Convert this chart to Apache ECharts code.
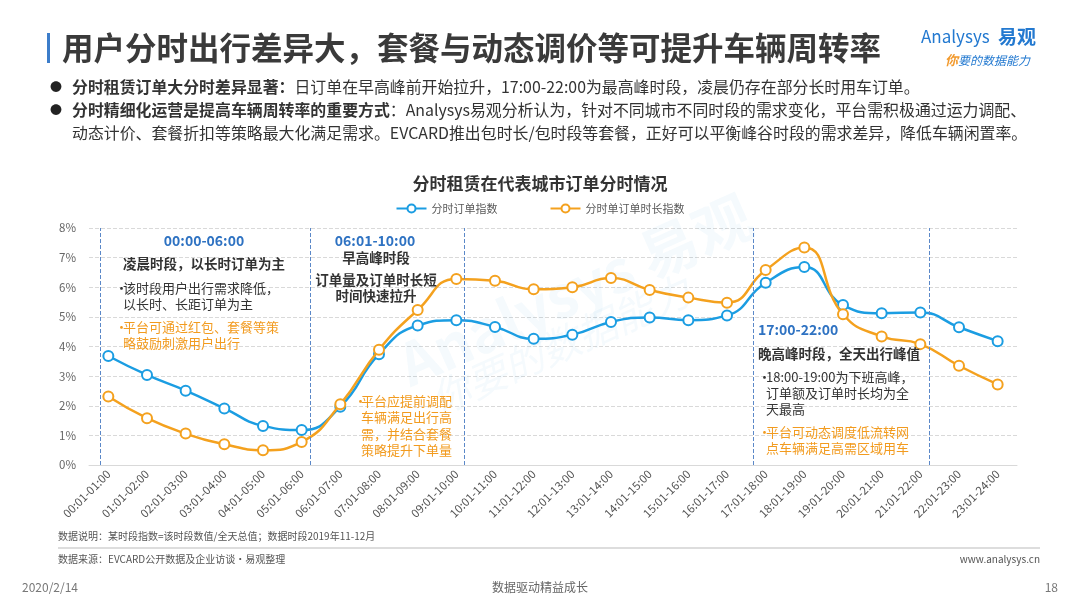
<!DOCTYPE html>
<html>
<head>
<meta charset="utf-8">
<script src="https://cdn.jsdelivr.net/npm/echarts@6/dist/echarts.min.js"></script>
<style>
html,body{margin:0;padding:0;background:#fff;}
#c{width:1080px;height:608px;}
</style>
</head>
<body>
<div id="c"></div>
<script>
const categories = ['00:01-01:00','01:01-02:00','02:01-03:00','03:01-04:00','04:01-05:00','05:01-06:00',
  '06:01-07:00','07:01-08:00','08:01-09:00','09:01-10:00','10:01-11:00','11:01-12:00',
  '12:01-13:00','13:01-14:00','14:01-15:00','15:01-16:00','16:01-17:00','17:01-18:00',
  '18:01-19:00','19:01-20:00','20:01-21:00','21:01-22:00','22:01-23:00','23:01-24:00'];
const orderIndex = [3.68,3.04,2.51,1.91,1.32,1.18,1.97,3.74,4.71,4.89,4.66,4.26,4.40,4.83,4.98,4.89,5.05,6.15,6.68,5.40,5.12,5.15,4.65,4.18];
const durationIndex = [2.31,1.58,1.06,0.70,0.50,0.78,2.05,3.89,5.23,6.28,6.22,5.93,6.00,6.31,5.91,5.65,5.48,6.58,7.34,5.09,4.34,4.08,3.35,2.72];
const seriesNames = ['分时订单指数','分时单订单时长指数'];
const yTicks = {min:0, max:8, interval:1};
// period separators, in category-index units (band centres at integers)
const periodMarks = [-0.21, 5.23, 9.21, 16.69, 21.24];

const FONT = '"Noto Sans CJK SC","Noto Sans",sans-serif';
const BLUE = '#1B9DE2', ORANGE = '#F4A11E', HEAD = '#2E72C2', DARK = '#333333', ORTXT = '#F29B1F';
const BODY = 15.9;

function txt(x, y, text, o) {
  o = o || {};
  return {type:'text', x:x, y:y, silent:true, z:o.z||10,
    rotation:o.rotation||0,
    style:{text:text, fontSize:o.size||13, fontWeight:o.bold?'bold':'normal',
      fontStyle:o.italic?'italic':'normal',
      fill:o.color||DARK, fontFamily:FONT, align:o.align||'left', verticalAlign:'middle',
      opacity:o.opacity==null?1:o.opacity, rich:o.rich}};
}

const graphics = [
  // title bar & title
  {type:'rect', shape:{x:47, y:33, width:3, height:30}, style:{fill:'#3C7DCA'}, silent:true},
  txt(62, 48, '用户分时出行差异大，套餐与动态调价等可提升车辆周转率', {size:31.5, bold:true, color:'#3a3a3a'}),
  // logo
  txt(921, 37, 'Analysys', {size:17, color:'#2379D0'}),
  txt(998, 37, '易观', {size:19, bold:true, color:'#2379D0'}),
  txt(945, 60, '{o|你}{b|要的数据能力}', {rich:{o:{fontSize:13, fontStyle:'italic', fill:'#F29A2E', fontFamily:FONT, fontWeight:'bold'}, b:{fontSize:12, fontStyle:'italic', fill:'#2379D0', fontFamily:FONT}}}),
  // bullets
  txt(50, 87, '●', {size:12, color:'#222'}),
  txt(72, 87, '{b|分时租赁订单大分时差异显著：}{n|日订单在早高峰前开始拉升，17:00-22:00为最高峰时段，凌晨仍存在部分长时用车订单。}',
    {rich:{b:{fontSize:BODY, fontWeight:'bold', fill:'#333', fontFamily:FONT}, n:{fontSize:BODY, fill:'#333', fontFamily:FONT}}}),
  txt(50, 110, '●', {size:12, color:'#222'}),
  txt(72, 110, '{b|分时精细化运营是提高车辆周转率的重要方式}{n|：Analysys易观分析认为，针对不同城市不同时段的需求变化，平台需积极通过运力调配、}',
    {rich:{b:{fontSize:BODY, fontWeight:'bold', fill:'#333', fontFamily:FONT}, n:{fontSize:BODY, fill:'#333', fontFamily:FONT}}}),
  txt(72, 133, '动态计价、套餐折扣等策略最大化满足需求。EVCARD推出包时长/包时段等套餐，正好可以平衡峰谷时段的需求差异，降低车辆闲置率。', {size:BODY, color:'#333'}),
  // watermark
  txt(575, 290, 'Analysys 易观', {size:58, bold:true, color:'#1B8FD8', opacity:0.045, align:'center', rotation:0.42, z:1}),
  txt(560, 345, '你要的数据能力', {size:40, italic:true, color:'#1B8FD8', opacity:0.045, align:'center', rotation:0.42, z:1}),
  // annotation: 00:00-06:00
  txt(204, 241, '00:00-06:00', {size:14, bold:true, color:HEAD, align:'center'}),
  txt(123, 264, '凌晨时段，以长时订单为主', {size:13.5, bold:true}),
  txt(115, 288, '•', {size:13}),
  txt(123, 288, '该时段用户出行需求降低，', {size:13}),
  txt(123, 304, '以长时、长距订单为主', {size:13}),
  txt(115, 327, '•', {size:13, color:ORTXT}),
  txt(123, 327, '平台可通过红包、套餐等策', {size:13, color:ORTXT}),
  txt(123, 343, '略鼓励刺激用户出行', {size:13, color:ORTXT}),
  // annotation: 06:01-10:00
  txt(375, 241, '06:01-10:00', {size:14, bold:true, color:HEAD, align:'center'}),
  txt(376, 258, '早高峰时段', {size:13.5, bold:true, align:'center'}),
  txt(376, 280, '订单量及订单时长短', {size:13.5, bold:true, align:'center'}),
  txt(376, 296, '时间快速拉升', {size:13.5, bold:true, align:'center'}),
  txt(354, 401, '•', {size:13, color:ORTXT}),
  txt(361, 401, '平台应提前调配', {size:13, color:ORTXT}),
  txt(361, 417, '车辆满足出行高', {size:13, color:ORTXT}),
  txt(361, 434, '需，并结合套餐', {size:13, color:ORTXT}),
  txt(361, 450, '策略提升下单量', {size:13, color:ORTXT}),
  // annotation: 17:00-22:00
  txt(758, 330, '17:00-22:00', {size:14, bold:true, color:HEAD}),
  txt(758, 354, '晚高峰时段，全天出行峰值', {size:13.5, bold:true}),
  txt(758, 377, '•', {size:13}),
  txt(766, 377, '18:00-19:00为下班高峰，', {size:13}),
  txt(766, 393, '订单额及订单时长均为全', {size:13}),
  txt(766, 409, '天最高', {size:13}),
  txt(758, 432, '•', {size:13, color:ORTXT}),
  txt(766, 432, '平台可动态调度低流转网', {size:13, color:ORTXT}),
  txt(766, 448, '点车辆满足高需区域用车', {size:13, color:ORTXT}),
  // footnotes
  txt(58, 536, '数据说明：某时段指数=该时段数值/全天总值；数据时段2019年11-12月', {size:10, color:'#555'}),
  {type:'line', shape:{x1:58, y1:548, x2:1040, y2:548}, style:{stroke:'#BBBBBB', lineWidth:1}, silent:true},
  txt(58, 559, '数据来源：EVCARD公开数据及企业访谈·易观整理', {size:10, color:'#555'}),
  txt(1040, 559, 'www.analysys.cn', {size:10, color:'#555', align:'right'}),
  txt(22, 587, '2020/2/14', {size:12, color:'#777'}),
  txt(540, 587, '数据驱动精益成长', {size:12, color:'#666', align:'center'}),
  txt(1058, 587, '18', {size:12, color:'#777', align:'right'})
];

const chart = echarts.init(document.getElementById('c'), null, {renderer:'canvas'});
chart.setOption({
  backgroundColor:'#fff',
  animation:false,
  textStyle:{fontFamily:FONT},
  title:{text:'分时租赁在代表城市订单分时情况', left:'center', top:170,
    textStyle:{fontSize:17, fontWeight:'bold', color:'#333', fontFamily:FONT}},
  legend:{top:198, left:'center', itemWidth:30, itemHeight:10, itemGap:52,
    textStyle:{fontSize:11, color:'#595959', fontFamily:FONT}, data:seriesNames},
  grid:{left:89, right:63, top:228, bottom:143, containLabel:false},
  xAxis:[{
    type:'category', data:categories, boundaryGap:true,
    axisLine:{lineStyle:{color:'#D9D9D9'}}, axisTick:{show:false},
    axisLabel:{rotate:45, fontSize:11.5, color:'#555', margin:7, interval:0, fontFamily:FONT}
  },{
    type:'value', min:-0.5, max:23.5, show:false
  }],
  yAxis:{
    type:'value', min:yTicks.min, max:yTicks.max, interval:yTicks.interval,
    axisLine:{show:false}, axisTick:{show:false},
    axisLabel:{formatter:'{value}%', fontSize:11.5, color:'#666', margin:13, fontFamily:FONT},
    splitLine:{lineStyle:{color:'#D9D9D9', type:'dashed'}}
  },
  series:[
    {name:seriesNames[0], type:'line', data:orderIndex, smooth:true,
      symbol:'emptyCircle', symbolSize:10, z:3,
      lineStyle:{width:2.5, color:BLUE}, itemStyle:{color:BLUE, borderWidth:2}},
    {name:seriesNames[1], type:'line', data:durationIndex, smooth:true,
      symbol:'emptyCircle', symbolSize:10, z:4,
      lineStyle:{width:2.5, color:ORANGE}, itemStyle:{color:ORANGE, borderWidth:2}},
    {type:'line', xAxisIndex:1, data:[], silent:true,
      markLine:{silent:true, symbol:['none','none'], label:{show:false},
        lineStyle:{color:'#5B88C8', type:'dashed', width:1},
        data:periodMarks.map(v => ({xAxis:v}))}}
  ],
  graphic:graphics
});
</script>
</body>
</html>
